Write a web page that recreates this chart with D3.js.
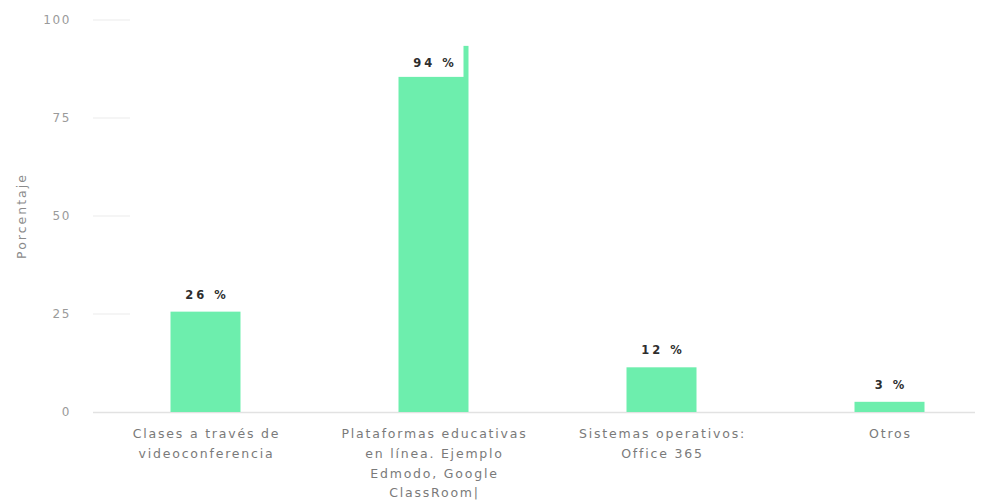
<!DOCTYPE html>
<html><head><meta charset="utf-8">
<script src="https://cdn.jsdelivr.net/npm/d3@7"></script>
<style>
html,body{margin:0;padding:0;background:#fff;}
svg{display:block;}
</style></head>
<body>
<svg id="chart" width="984" height="503"></svg>
<script>
const categories = [
  "Clases a través de\nvideoconferencia",
  "Plataformas educativas\nen línea. Ejemplo\nEdmodo, Google\nClassRoom|",
  "Sistemas operativos:\nOffice 365",
  "Otros"
];
const values = [25.6, 93.4, 11.4, 2.6];
const valueLabels = ["26 %", "94 %", "12 %", "3 %"];
const yTicks = [0, 25, 50, 75, 100];
const yTitle = "Porcentaje";

const svg = d3.select("#chart");
const y = d3.scaleLinear().domain([0, 100]).range([412, 20]);
const x = d3.scaleBand().domain(categories).range([91.5, 1003.5])
  .paddingInner(0.693).paddingOuter(0.3465);

// short grid stubs
svg.append("g").selectAll("line").data(yTicks.filter(d => d > 0)).join("line")
  .attr("x1", 93).attr("x2", 130)
  .attr("y1", d => y(d)).attr("y2", d => y(d))
  .attr("stroke", "#ebebeb").attr("stroke-width", 1);

// baseline
svg.append("line").attr("x1", 93).attr("x2", 975)
  .attr("y1", y(0) + 0.5).attr("y2", y(0) + 0.5)
  .attr("stroke", "#e2e2e2").attr("stroke-width", 1.5);

// y tick labels
svg.append("g").selectAll("text").data(yTicks).join("text")
  .attr("x", 71).attr("y", d => y(d)).attr("dy", "0.35em")
  .attr("text-anchor", "end")
  .attr("font-family", "DejaVu Sans").attr("font-size", 12)
  .attr("letter-spacing", 1.6)
  .attr("fill", "#9a9a9a")
  .text(d => d);

// y title
svg.append("text")
  .attr("transform", `translate(22,${(y(0)+y(100))/2}) rotate(-90)`)
  .attr("text-anchor", "middle").attr("dy", "0.35em")
  .attr("font-family", "DejaVu Sans").attr("font-size", 12.5)
  .attr("letter-spacing", 2)
  .attr("fill", "#8a8a8a")
  .text(yTitle);

// bars
svg.append("g").selectAll("rect").data(values).join("rect")
  .attr("x", (d, i) => x(categories[i]))
  .attr("width", x.bandwidth())
  .attr("y", d => y(d))
  .attr("height", d => y(0) - y(d))
  .attr("fill", "#6deead");

// value labels with white boxes
const lab = svg.append("g");
values.forEach((v, i) => {
  const inside = y(v) < 60;
  const cx = x(categories[i]) + x.bandwidth() / 2;
  const cy = inside ? y(v) + 17 : y(v) - 17;
  if (inside) {
    lab.append("rect")
      .attr("x", x(categories[i]) - 1).attr("y", y(v) - 2)
      .attr("width", x.bandwidth() - 4).attr("height", 33)
      .attr("fill", "#fff");
  }
  lab.append("text")
    .attr("x", cx + 1.5).attr("y", cy).attr("dy", "0.35em")
    .attr("text-anchor", "middle")
    .attr("font-family", "DejaVu Sans").attr("font-weight", "bold")
    .attr("font-size", 11.5).attr("letter-spacing", 3)
    .attr("fill", "#2e2e2e")
    .text(valueLabels[i]);
});

// category labels
const cat = svg.append("g");
categories.forEach((c, i) => {
  const cx = x(c) + x.bandwidth() / 2 + 1;
  const t = cat.append("text")
    .attr("text-anchor", "middle")
    .attr("font-family", "DejaVu Sans").attr("font-size", 12.5)
    .attr("letter-spacing", 1.8)
    .attr("fill", "#7a7a7a");
  c.split("\n").forEach((line, k) => {
    t.append("tspan").attr("x", cx).attr("y", 434 + k * 19.6)
      .attr("dy", "0.35em").text(line);
  });
});
</script>
</body></html>
